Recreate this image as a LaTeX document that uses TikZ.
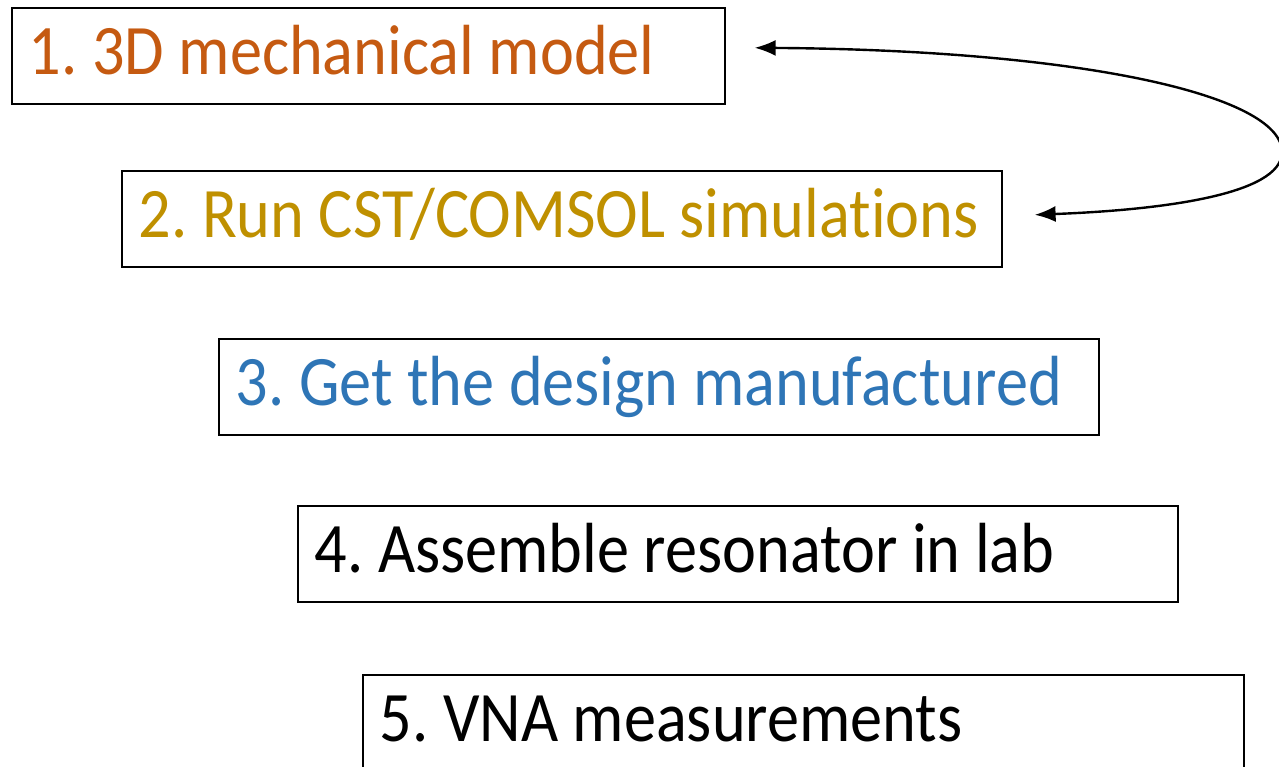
\documentclass[tikz,border=0pt]{standalone}
\usepackage{fontspec}
\setmainfont{Carlito}[Ligatures=NoCommon,FakeStretch=0.905]
\usetikzlibrary{arrows.meta,calc}
\definecolor{c1}{HTML}{C55A11}
\definecolor{c2}{HTML}{BF9000}
\definecolor{c3}{HTML}{2E75B6}
\newcommand{\boxtext}[2]{\makebox[#1][l]{#2}}
\begin{document}
\frenchspacing
\begin{tikzpicture}[x=1pt,y=-1pt,
  stepbox/.style={draw=black,line width=1.6pt,anchor=north west,
    inner xsep=17pt,inner ysep=0pt,text height=67pt,text depth=29pt,
    font=\fontsize{71}{80}\selectfont},
  loop/.style={line width=2.4pt,{Latex[length=21pt,width=16pt]}-{Latex[length=21pt,width=16pt]}}]
\useasboundingbox (0,0) rectangle (1279,767);
\begin{scope}
\clip (0,0) rectangle (1279,767);
\node[stepbox,text=c1] (b1) at (11,7) {\boxtext{679pt}{1. 3D mechanical model}};
\node[stepbox,text=c2] (b2) at (121,170) {\boxtext{846pt}{2. Run CST/COMSOL simulations}};
\node[stepbox,text=c3] (b3) at (218,338) {\boxtext{846pt}{3. Get the design manufactured}};
\node[stepbox,text=black] (b4) at (297,505) {\boxtext{846pt}{4. Assemble resonator in lab}};
\node[stepbox,text=black] (b5) at (362,674) {\boxtext{847pt}{5. VNA measurements}};
\coordinate (t1) at ($(b1.east)+(29,-8)$);
\coordinate (t2) at ($(b2.east)+(32,-4)$);
\draw[loop] (t1) .. controls (1080,50) and (1282,95) .. (1282,152)
  .. controls (1282,195) and (1160,210) .. (t2);
\end{scope}
\end{tikzpicture}
\end{document}
